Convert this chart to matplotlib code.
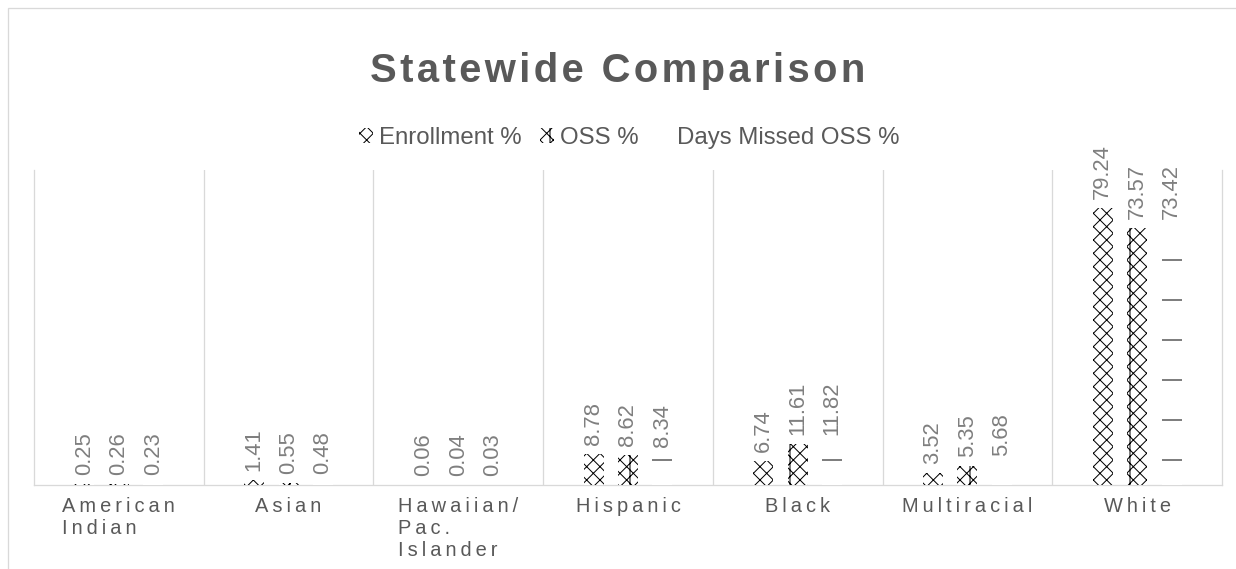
import numpy as np
import matplotlib
matplotlib.use("Agg")
import matplotlib.pyplot as plt
from matplotlib.patches import Patch, Rectangle

# ---------- DATA ----------

CATEGORIES = ["American\nIndian", "Asian", "Hawaiian/\nPac.\nIslander",
              "Hispanic", "Black", "Multiracial", "White"]
SERIES_NAMES = ["Enrollment %", "OSS %", "Days Missed OSS %"]
ENROLLMENT = [0.25, 1.41, 0.06, 8.78, 6.74, 3.52, 79.24]
OSS = [0.26, 0.55, 0.04, 8.62, 11.61, 5.35, 73.57]
DAYS_MISSED = [0.23, 0.48, 0.03, 8.34, 11.82, 5.68, 73.42]

# ---------- STYLE ----------

W, H = 1236, 569
# hatch spacing is fixed per inch, so a high dpi keeps the patterns sparse
DPI = 240
PX = 72 / DPI          # points per pixel

FONT = ["Liberation Sans", "DejaVu Sans"]
DARK = "#595959"
MID = "#7f7f7f"
GRID = "#d9d9d9"

HATCHES = ["xxxxxx", "xxxxxx||", "-"]
BAR_W = 0.118
OFFSETS = [-0.203, 0.0, 0.203]

plt.rcParams["font.family"] = FONT
plt.rcParams["hatch.linewidth"] = 1.0 * PX


def spaced(text, sep="\u2009"):
    """Letter-spaced text, line by line."""
    return "\n".join(sep.join(line) for line in text.split("\n"))


fig = plt.figure(figsize=(W / DPI, H / DPI), dpi=DPI)
ax = fig.add_axes([34 / W, 1 - 485 / H, 1188 / W, 315 / H])

# chart area border
fig.patches.append(Rectangle((8 / W, -0.1), 1.2, 1.1 - 8 / H, transform=fig.transFigure,
                             fill=False, edgecolor=GRID, linewidth=1.3 * PX))

x = np.arange(len(CATEGORIES))
for vals, off, hatch in zip([ENROLLMENT, OSS, DAYS_MISSED], OFFSETS, HATCHES):
    bars = ax.bar(x + off, vals, width=BAR_W, facecolor="white", edgecolor="black",
                  linewidth=0, hatch=hatch, zorder=3)
    for rect, v in zip(bars, vals):
        ax.annotate(f"{v:.2f}", xy=(rect.get_x() + rect.get_width() / 2, v),
                    xytext=(0, 9 * PX), textcoords="offset points",
                    rotation=90, ha="center", va="bottom",
                    fontsize=22 * PX, color=MID, annotation_clip=False)

ax.set_xlim(-0.5, len(CATEGORIES) - 0.5)
ax.set_ylim(0, 90)
ax.set_yticks([])
ax.set_xticks([])
ax.set_xticks(np.arange(0.5, len(CATEGORIES) - 1, 1), minor=True)
ax.tick_params(which="both", length=0, labelbottom=False)
ax.grid(which="minor", axis="x", color=GRID, linewidth=1.3 * PX, zorder=0)
ax.spines["top"].set_visible(False)
for side in ["left", "right", "bottom"]:
    ax.spines[side].set_color(GRID)
    ax.spines[side].set_linewidth(1.3 * PX)
    ax.spines[side].set_zorder(1)

for i, cat in enumerate(CATEGORIES):
    ax.annotate(spaced(cat), xy=(i, 0), xycoords=("data", "axes fraction"),
                xytext=(0, -12 * PX), textcoords="offset points",
                ha="center", va="top", multialignment="left",
                fontsize=20 * PX, color=DARK, linespacing=1.2)

fig.text(0.5, 1 - 82 / H, spaced("Statewide Comparison", "\u200a"),
         ha="center", va="baseline", fontsize=40 * PX, fontweight="bold", color=DARK)

handles = [Patch(facecolor="white", edgecolor="black", linewidth=0, hatch=HATCHES[0]),
           Patch(facecolor="white", edgecolor="black", linewidth=0, hatch=HATCHES[1]),
           Patch(facecolor="white", edgecolor="white", linewidth=0)]
leg = fig.legend(handles, SERIES_NAMES, loc="center",
                 bbox_to_anchor=(0.5 + 11 / W, 1 - 138 / H),
                 ncol=3, frameon=False, fontsize=24 * PX,
                 handlelength=0.6, handleheight=0.6, handletextpad=0.25,
                 columnspacing=0.75)
for t in leg.get_texts():
    t.set_color(DARK)

fig.savefig("out.png", dpi=DPI)
